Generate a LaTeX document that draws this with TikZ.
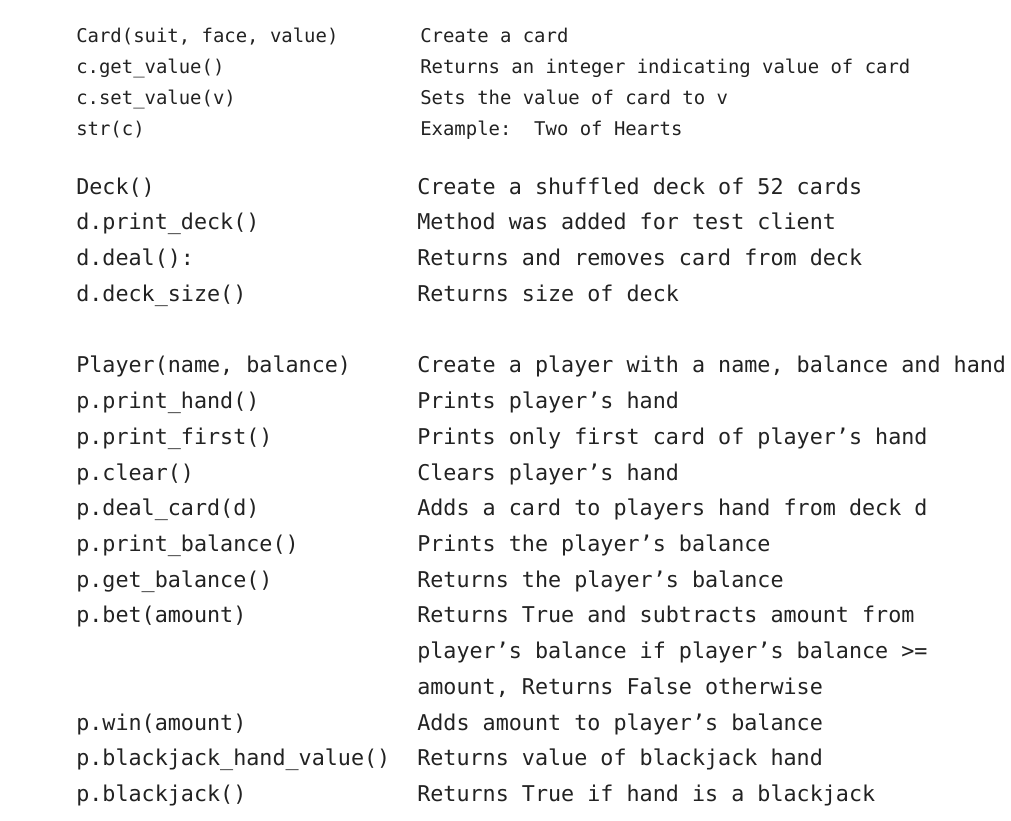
\documentclass[tikz,border=0pt]{standalone}
\usepackage{fontspec}
\setmonofont{DejaVu Sans Mono}
\definecolor{txt}{HTML}{222222}
\tikzset{
  sm/.style={anchor=base west,inner sep=0pt,text=txt,font=\ttfamily\fontsize{14.2pt}{16pt}\selectfont},
  bg/.style={anchor=base west,inner sep=0pt,text=txt,font=\ttfamily\fontsize{16.3pt}{18pt}\selectfont}
}
\begin{document}
\begin{tikzpicture}[x=0.75pt,y=-0.75pt]
\useasboundingbox (0,0) rectangle (1011,821);
\node[sm] (a1) at (76,42) {Card(suit, face, value)};
\node[sm] (b1) at (420,42) {Create a card};
\node[sm] (a2) at (76,73) {c.get\_value()};
\node[sm] (b2) at (420,73) {Returns an integer indicating value of card};
\node[sm] (a3) at (76,104) {c.set\_value(v)};
\node[sm] (b3) at (420,104) {Sets the value of card to v};
\node[sm] (a4) at (76,135) {str(c)};
\node[sm] (b4) at (420,135) {Example:\ \ Two of Hearts};

\node[bg] (c1) at (76,194) {Deck()};
\node[bg] (d1) at (417,194) {Create a shuffled deck of 52 cards};
\node[bg] (c2) at (76,229) {d.print\_deck()};
\node[bg] (d2) at (417,229) {Method was added for test client};
\node[bg] (c3) at (76,265) {d.deal():};
\node[bg] (d3) at (417,265) {Returns and removes card from deck};
\node[bg] (c4) at (76,301) {d.deck\_size()};
\node[bg] (d4) at (417,301) {Returns size of deck};

\node[bg] (e1) at (76,372) {Player(name, balance)};
\node[bg] (f1) at (417,372) {Create a player with a name, balance and hand};
\node[bg] (e2) at (76,408) {p.print\_hand()};
\node[bg] (f2) at (417,408) {Prints player’s hand};
\node[bg] (e3) at (76,444) {p.print\_first()};
\node[bg] (f3) at (417,444) {Prints only first card of player’s hand};
\node[bg] (e4) at (76,480) {p.clear()};
\node[bg] (f4) at (417,480) {Clears player’s hand};
\node[bg] (e5) at (76,515) {p.deal\_card(d)};
\node[bg] (f5) at (417,515) {Adds a card to players hand from deck d};
\node[bg] (e6) at (76,551) {p.print\_balance()};
\node[bg] (f6) at (417,551) {Prints the player’s balance};
\node[bg] (e7) at (76,587) {p.get\_balance()};
\node[bg] (f7) at (417,587) {Returns the player’s balance};
\node[bg] (e8) at (76,622) {p.bet(amount)};
\node[bg] (f8) at (417,622) {Returns True and subtracts amount from};
\node[bg] (f9) at (417,658) {player’s balance if player’s balance >=};
\node[bg] (f10) at (417,694) {amount, Returns False otherwise};
\node[bg] (e11) at (76,730) {p.win(amount)};
\node[bg] (f11) at (417,730) {Adds amount to player’s balance};
\node[bg] (e12) at (76,765) {p.blackjack\_hand\_value()};
\node[bg] (f12) at (417,765) {Returns value of blackjack hand};
\node[bg] (e13) at (76,801) {p.blackjack()};
\node[bg] (f13) at (417,801) {Returns True if hand is a blackjack};
\end{tikzpicture}
\end{document}
